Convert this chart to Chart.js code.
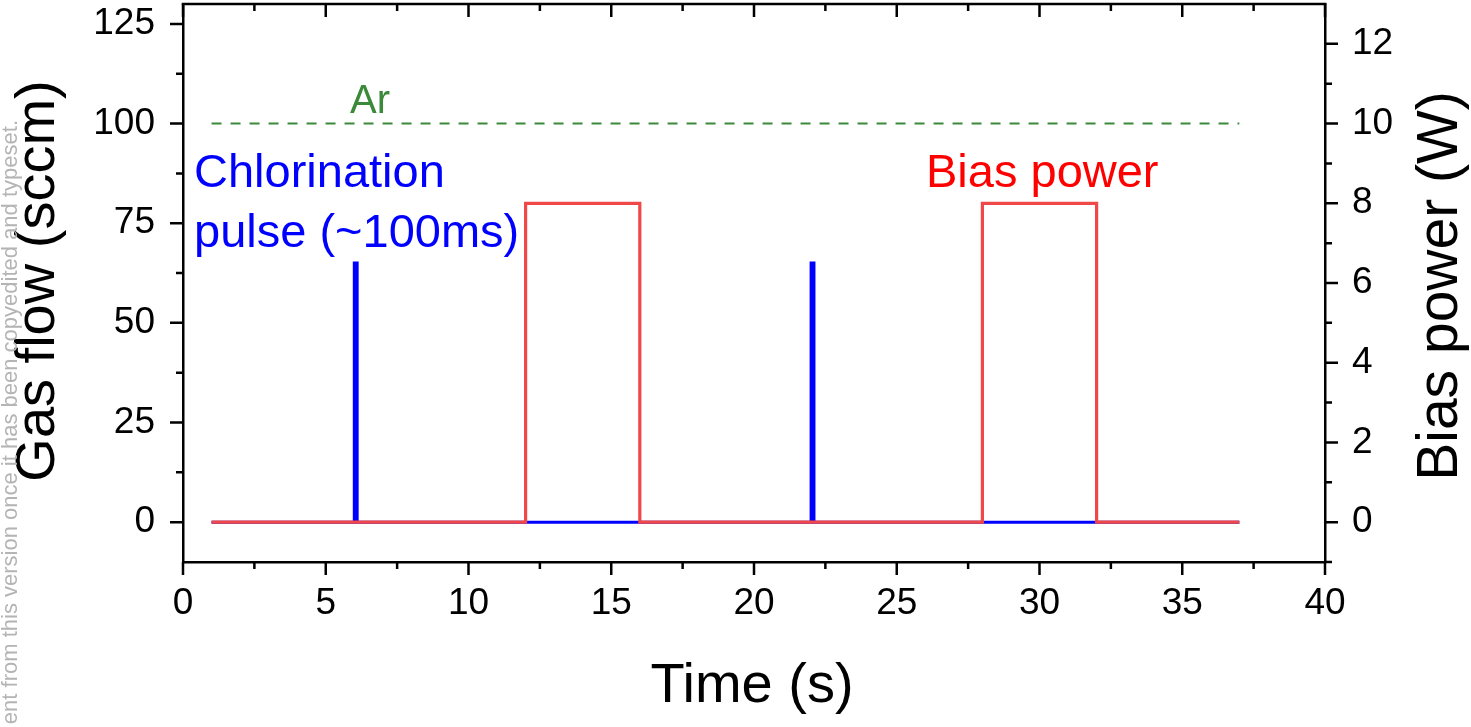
<!DOCTYPE html>
<html><head><meta charset="utf-8">
<script src="https://cdn.jsdelivr.net/npm/chart.js@4"></script>
<style>html,body{margin:0;padding:0;background:#fff;}#wrap{width:1471px;height:727px;position:relative}</style>
</head><body><div id="wrap"><canvas id="c" width="1471" height="727"></canvas></div>
<script>
// ---- data ----
const timeAr = [1, 37];
const flowAr = [100, 100];
const timeChlor = [1, 6, 6, 6.1, 6.1, 22, 22, 22.1, 22.1, 37];
const flowChlor = [0, 0, 65, 65, 0, 0, 65, 65, 0, 0];
const timeBias = [1, 12, 12, 16, 16, 28, 28, 32, 32, 37];
const powerBias = [0, 0, 8, 8, 0, 0, 8, 8, 0, 0];
const xMajor = [0, 5, 10, 15, 20, 25, 30, 35, 40];
const xMinor = [2.5, 7.5, 12.5, 17.5, 22.5, 27.5, 32.5, 37.5];
const yLeftMajor = [0, 25, 50, 75, 100, 125];
const yLeftMinor = [12.5, 37.5, 62.5, 87.5, 112.5];
const yRightMajor = [0, 2, 4, 6, 8, 10, 12];
const yRightMinor = [-1, 1, 3, 5, 7, 9, 11];

const FONT = "'Liberation Sans', Arial, sans-serif";
const zip = (xs, ys) => xs.map((x, i) => ({x, y: ys[i]}));
const noPad = s => { s.paddingTop = 0; s.paddingBottom = 0; s.paddingLeft = 0; s.paddingRight = 0; };

const decor = {
  id: 'decor',
  afterDraw(chart) {
    const {ctx, chartArea: a, scales} = chart;
    const X = scales.x, YL = scales.y, YR = scales.y2;
    ctx.save();
    ctx.strokeStyle = '#000';
    ctx.lineWidth = 2.5;
    ctx.lineCap = 'butt';
    // top frame
    ctx.beginPath(); ctx.moveTo(a.left - 1.25, a.top); ctx.lineTo(a.right + 1.25, a.top); ctx.stroke();
    const MAJ = 13, MIN = 7;
    ctx.beginPath();
    xMajor.forEach(v => { const p = X.getPixelForValue(v);
      ctx.moveTo(p, a.bottom); ctx.lineTo(p, a.bottom + MAJ);
      ctx.moveTo(p, a.top); ctx.lineTo(p, a.top + MAJ); });
    xMinor.forEach(v => { const p = X.getPixelForValue(v);
      ctx.moveTo(p, a.bottom); ctx.lineTo(p, a.bottom + MIN);
      ctx.moveTo(p, a.top); ctx.lineTo(p, a.top + MIN); });
    yLeftMajor.forEach(v => { const p = YL.getPixelForValue(v);
      ctx.moveTo(a.left, p); ctx.lineTo(a.left - MAJ, p); });
    yLeftMinor.forEach(v => { const p = YL.getPixelForValue(v);
      ctx.moveTo(a.left, p); ctx.lineTo(a.left - MIN, p); });
    yRightMajor.forEach(v => { const p = YR.getPixelForValue(v);
      ctx.moveTo(a.right, p); ctx.lineTo(a.right + MAJ, p); });
    yRightMinor.forEach(v => { const p = YR.getPixelForValue(v);
      ctx.moveTo(a.right, p); ctx.lineTo(a.right + MIN, p); });
    ctx.stroke();

    // annotations
    ctx.textAlign = 'left'; ctx.textBaseline = 'alphabetic';
    ctx.font = '40px ' + FONT; ctx.fillStyle = '#3a8a3a';
    ctx.fillText('Ar', 350, 113);
    ctx.font = '47px ' + FONT; ctx.fillStyle = '#0000ff';
    ctx.fillText('Chlorination', 194, 187);
    ctx.fillText('pulse (~100ms)', 194, 247);
    ctx.fillStyle = '#ff0000';
    ctx.fillText('Bias power', 926, 187);

    // axis titles
    ctx.fillStyle = '#000';
    ctx.font = '56px ' + FONT;
    ctx.textAlign = 'center';
    ctx.fillText('Time (s)', 752, 702);
    ctx.save(); ctx.translate(54, 281); ctx.rotate(-Math.PI / 2);
    ctx.fillText('Gas flow (sccm)', 0, 0); ctx.restore();
    ctx.font = '57px ' + FONT;
    ctx.save(); ctx.translate(1457, 286); ctx.rotate(-Math.PI / 2);
    ctx.fillText('Bias power (W)', 0, 0); ctx.restore();

    // side watermark
    ctx.save(); ctx.translate(17, 120); ctx.rotate(-Math.PI / 2);
    ctx.font = '22px ' + FONT; ctx.fillStyle = '#b4b4b4'; ctx.textAlign = 'right';
    ctx.fillText('ent from this version once it has been copyedited and typeset.', 0, 0);
    ctx.restore();
    ctx.restore();
  }
};

new Chart(document.getElementById('c'), {
  type: 'line',
  data: {
    datasets: [
      { label: 'Bias power', data: zip(timeBias, powerBias), yAxisID: 'y2', borderColor: '#f04848', borderWidth: 3.2, pointRadius: 0, tension: 0, order: 0 },
      { label: 'Chlorination', data: zip(timeChlor, flowChlor), yAxisID: 'y', borderColor: '#0000ff', borderWidth: 3, pointRadius: 0, tension: 0, order: 1 },
      { label: 'Ar', data: zip(timeAr, flowAr), yAxisID: 'y', borderColor: '#3a8a3a', borderWidth: 2, borderDash: [10, 9], pointRadius: 0, tension: 0, order: 2 }
    ]
  },
  options: {
    responsive: false, devicePixelRatio: 1, animation: false,
    layout: { padding: { top: 4, left: 0, right: 0, bottom: 0 } },
    plugins: { legend: { display: false }, tooltip: { enabled: false } },
    scales: {
      x: {
        type: 'linear', position: 'bottom', min: 0, max: 40,
        afterBuildTicks: s => { s.ticks = xMajor.map(v => ({value: v})); },
        afterFit: s => { s.height = 165; noPad(s); },
        grid: { display: false, drawTicks: false },
        border: { display: true, color: '#000', width: 2.5 },
        ticks: { color: '#000', font: { family: FONT, size: 37 }, padding: 20, maxRotation: 0, autoSkip: false }
      },
      y: {
        type: 'linear', position: 'left', min: -10, max: 130,
        afterBuildTicks: s => { s.ticks = yLeftMajor.map(v => ({value: v})); },
        afterFit: s => { s.width = 183; noPad(s); },
        grid: { display: false, drawTicks: false },
        border: { display: true, color: '#000', width: 2.5 },
        ticks: { color: '#000', font: { family: FONT, size: 37 }, padding: 28, autoSkip: false }
      },
      y2: {
        type: 'linear', position: 'right', min: -1, max: 13,
        afterBuildTicks: s => { s.ticks = yRightMajor.map(v => ({value: v})); },
        afterFit: s => { s.width = 146; noPad(s); },
        grid: { display: false, drawTicks: false },
        border: { display: true, color: '#000', width: 2.5 },
        ticks: { color: '#000', font: { family: FONT, size: 37 }, padding: 27, autoSkip: false }
      }
    }
  },
  plugins: [decor]
});
</script></body></html>
